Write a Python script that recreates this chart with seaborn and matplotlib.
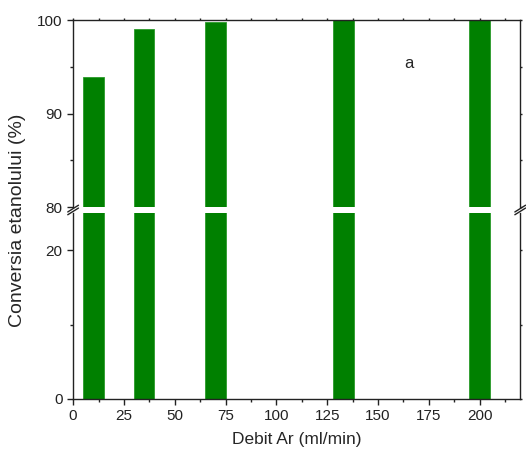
import numpy as np
import matplotlib
matplotlib.use("Agg")
import matplotlib.pyplot as plt
import seaborn as sns
from matplotlib.ticker import MultipleLocator

# date
debit = [10, 35, 70, 133, 200]
conversie = [93.9, 99.1, 99.8, 100.0, 100.0]

sns.set_theme(style="ticks")
plt.rcParams['font.family'] = ['Liberation Sans', 'DejaVu Sans']
plt.rcParams['axes.linewidth'] = 1.0

fig = plt.figure(figsize=(5.26, 4.57), dpi=100)
ax_top = fig.add_axes([0.139, 0.547, 0.850, 0.409])
ax_bot = fig.add_axes([0.139, 0.127, 0.850, 0.407])

for ax in (ax_top, ax_bot):
    sns.barplot(x=debit, y=conversie, native_scale=True, width=0.4,
                color='#008000', saturation=1, edgecolor='#2a9a2a',
                linewidth=0.6, ax=ax)
    ax.set_xlim(0, 220)
    ax.xaxis.set_major_locator(MultipleLocator(25))
    ax.xaxis.set_minor_locator(MultipleLocator(12.5))
    for s in ax.spines.values():
        s.set_color('#222222')
    ax.set_xlabel('')
    ax.set_ylabel('')

ax_top.set_ylim(80, 100)
ax_bot.set_ylim(0, 25)
ax_top.yaxis.set_major_locator(MultipleLocator(10))
ax_top.yaxis.set_minor_locator(MultipleLocator(5))
ax_bot.yaxis.set_major_locator(MultipleLocator(20))
ax_bot.yaxis.set_minor_locator(MultipleLocator(10))

ax_top.spines['bottom'].set_visible(False)
ax_bot.spines['top'].set_visible(False)

for ax in (ax_top, ax_bot):
    ax.tick_params(which='both', direction='out', colors='#222222', width=1)
    ax.tick_params(axis='y', which='both', left=True, right=True, labelright=False)
    ax.tick_params(which='major', length=4, labelsize=11)
    ax.tick_params(which='minor', length=2.5)
    # tick-urile din dreapta / sus sunt foarte scurte
    for t in ax.yaxis.get_major_ticks() + ax.yaxis.get_minor_ticks():
        t.tick2line.set_markersize(1.5)

ax_top.tick_params(axis='x', which='both', bottom=False, top=True, labelbottom=False)
for t in ax_top.xaxis.get_major_ticks() + ax_top.xaxis.get_minor_ticks():
    t.tick2line.set_markersize(1.5)
ax_bot.tick_params(axis='x', which='both', bottom=True, top=False)

ax_top.text(165, 95.4, 'a', fontsize=12, ha='center', va='center')

# semne de intrerupere a axei
d = 0.012
kw = dict(color='#222222', lw=1.0, clip_on=False)
for xx in (0, 1):
    ax_top.plot([xx - d, xx + d], [-d * 2.2, d * 0.8], transform=ax_top.transAxes, **kw)
    ax_bot.plot([xx - d, xx + d], [1 - d * 0.8, 1 + d * 2.2], transform=ax_bot.transAxes, **kw)

ax_bot.set_xlabel('Debit Ar (ml/min)', fontsize=12.5, labelpad=6)
fig.text(0.034, 0.519, 'Conversia etanolului (%)', rotation=90, fontsize=14,
         ha='center', va='center')

plt.savefig('out.png', dpi=100)
